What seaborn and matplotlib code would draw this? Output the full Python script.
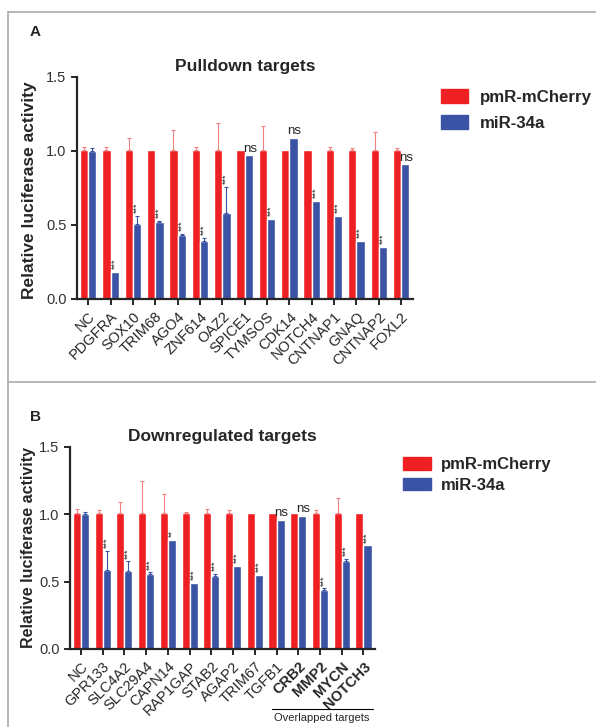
import pandas as pd
import matplotlib.pyplot as plt
import seaborn as sns
from matplotlib.lines import Line2D
from matplotlib.patches import Patch

# ==================================================
# Data
# ==================================================
SERIES = ["pmR-mCherry", "miR-34a"]
COLORS = {"pmR-mCherry": "#ee2024", "miR-34a": "#3a53a4"}

genes_a = ["NC", "PDGFRA", "SOX10", "TRIM68", "AGO4", "ZNF614", "OAZ2", "SPICE1",
           "TYMSOS", "CDK14", "NOTCH4", "CNTNAP1", "GNAQ", "CNTNAP2", "FOXL2"]
ctrl_a = [1.01, 1.01, 1.01, 1.01, 1.01, 1.01, 1.01, 1.01, 1.01, 1.01, 1.01, 1.01, 1.01, 1.01, 1.01]
ctrl_err_a = [0.02, 0.02, 0.08, 0.0, 0.13, 0.02, 0.18, 0.0, 0.16, 0.0, 0.0, 0.02, 0.01, 0.12, 0.01]
mir_a = [1.00, 0.18, 0.51, 0.52, 0.43, 0.39, 0.58, 0.97, 0.54, 1.09, 0.66, 0.56, 0.39, 0.35, 0.91]
mir_err_a = [0.02, 0.0, 0.05, 0.01, 0.01, 0.02, 0.18, 0.0, 0.0, 0.0, 0.0, 0.0, 0.0, 0.0, 0.0]
sig_a = ["", "***", "***", "***", "***", "***", "***", "ns", "***", "ns", "***", "***", "***", "***", "ns"]

genes_b = ["NC", "GPR133", "SLC4A2", "SLC29A4", "CAPN14", "RAP1GAP", "STAB2", "AGAP2",
           "TRIM67", "TGFB1", "CRB2", "MMP2", "MYCN", "NOTCH3"]
ctrl_b = [1.01, 1.01, 1.01, 1.01, 1.01, 1.01, 1.01, 1.01, 1.01, 1.01, 1.01, 1.01, 1.01, 1.01]
ctrl_err_b = [0.03, 0.02, 0.08, 0.24, 0.14, 0.01, 0.03, 0.02, 0.0, 0.0, 0.0, 0.02, 0.11, 0.0]
mir_b = [1.00, 0.59, 0.58, 0.56, 0.81, 0.49, 0.54, 0.62, 0.55, 0.96, 0.99, 0.44, 0.65, 0.77]
mir_err_b = [0.02, 0.14, 0.07, 0.01, 0.0, 0.0, 0.02, 0.0, 0.0, 0.0, 0.0, 0.01, 0.02, 0.0]
sig_b = ["", "***", "***", "***", "**", "***", "***", "***", "***", "ns", "ns", "***", "***", "***"]
bold_b = ["CRB2", "MMP2", "MYCN", "NOTCH3"]

sns.set_style("ticks")
plt.rcParams['font.family'] = ['Liberation Sans', 'DejaVu Sans']


def make_df(genes, ctrl, mir):
    return pd.DataFrame({
        "gene": genes * 2,
        "group": [SERIES[0]] * len(genes) + [SERIES[1]] * len(genes),
        "value": list(ctrl) + list(mir),
    })


def draw_panel(ax, genes, ctrl, ctrl_err, mir, mir_err, sig, title, ylab_size, bold=()):
    df = make_df(genes, ctrl, mir)
    sns.barplot(data=df, x="gene", y="value", hue="group", palette=COLORS,
                width=0.74, errorbar=None, saturation=1, ax=ax, legend=False)
    n = len(genes)
    bars = ax.patches[:2 * n]
    red_bars, blue_bars = bars[:n], bars[n:]
    # one-sided error bars
    for b, e in zip(red_bars, ctrl_err):
        if e > 0:
            x = b.get_x() + b.get_width() / 2
            ax.errorbar(x, b.get_height(), yerr=[[0], [e]], fmt="none",
                        ecolor="#f08080", elinewidth=0.8, capsize=1.5, capthick=0.8)
    for b, e in zip(blue_bars, mir_err):
        if e > 0:
            x = b.get_x() + b.get_width() / 2
            ax.errorbar(x, b.get_height(), yerr=[[0], [e]], fmt="none",
                        ecolor="#3a53a4", elinewidth=0.8, capsize=1.5, capthick=0.8)
    # significance marks
    for b, e, s in zip(blue_bars, mir_err, sig):
        if not s:
            continue
        x = b.get_x() + b.get_width() / 2
        top = b.get_height() + e
        if s == "ns":
            ax.text(x + 0.05, top + 0.005, "ns", ha="center", va="bottom", fontsize=9.5)
        else:
            ax.text(x, top + 0.02, s, ha="center", va="bottom", rotation=90, fontsize=6.5)

    ax.set_ylim(0, 1.5)
    ax.set_yticks([0, 0.5, 1.0, 1.5])
    ax.set_yticklabels(["0.0", "0.5", "1.0", "1.5"], fontsize=10.5, color="#333333")
    ax.set_xlim(-0.5, n - 0.47)
    ax.set_xlabel("")
    ax.set_ylabel("Relative luciferase activity", fontsize=ylab_size, fontweight="bold")
    ax.set_xticks(range(n))
    ax.set_xticklabels(genes, rotation=45, ha="right", rotation_mode="anchor", fontsize=10.5)
    for lbl in ax.get_xticklabels():
        if lbl.get_text() in bold:
            lbl.set_fontweight("bold")
    ax.set_title(title, fontsize=12.5, fontweight="bold", pad=4)
    sns.despine(ax=ax)
    for sp in ["left", "bottom"]:
        ax.spines[sp].set_linewidth(1.6)
    ax.tick_params(width=1.4, length=4)


fig = plt.figure(figsize=(5.96, 7.27), dpi=100)

# panel frames
fig.add_artist(Line2D([8 / 596, 8 / 596], [0, 1 - 12 / 727], color="#aaaaaa", lw=1.2))
fig.add_artist(Line2D([8 / 596, 1], [1 - 12 / 727, 1 - 12 / 727], color="#aaaaaa", lw=1.2))
fig.add_artist(Line2D([8 / 596, 1], [1 - 382 / 727, 1 - 382 / 727], color="#aaaaaa", lw=1.2))

ax_a = fig.add_axes([77 / 596, 1 - 299 / 727, 336 / 596, 222 / 727])
draw_panel(ax_a, genes_a, ctrl_a, ctrl_err_a, mir_a, mir_err_a, sig_a, "Pulldown targets", 12.5)
ax_a.yaxis.set_label_coords(-0.118, 0.49)

ax_b = fig.add_axes([70 / 596, 1 - 649 / 727, 305 / 596, 202 / 727])
draw_panel(ax_b, genes_b, ctrl_b, ctrl_err_b, mir_b, mir_err_b, sig_b, "Downregulated targets",
           11.5, bold_b)
ax_b.yaxis.set_label_coords(-0.11, 0.5)

handles = [Patch(color=COLORS[s]) for s in SERIES]
fig.legend(handles, SERIES, loc="center left", bbox_to_anchor=(426 / 596, 1 - 110 / 727),
           frameon=False, prop={"weight": "bold", "size": 12.2}, handlelength=1.6,
           handleheight=0.88, handletextpad=0.7, labelspacing=0.6)
fig.legend(handles, SERIES, loc="center left", bbox_to_anchor=(388 / 596, 1 - 475 / 727),
           frameon=False, prop={"weight": "bold", "size": 12}, handlelength=1.7,
           handleheight=0.78, handletextpad=0.6, labelspacing=0.32)

fig.text(30 / 596, 1 - 32 / 727, "A", fontsize=11, fontweight="bold", va="center")
fig.text(30 / 596, 1 - 417 / 727, "B", fontsize=11, fontweight="bold", va="center")

# overlapped targets bracket
fig.add_artist(Line2D([272 / 596, 373 / 596], [1 - 709 / 727, 1 - 709 / 727], color="black", lw=0.8))
fig.text(322 / 596, 1 - 713 / 727, "Overlapped targets", fontsize=8, ha="center", va="top")

plt.savefig("out.png", dpi=100)
